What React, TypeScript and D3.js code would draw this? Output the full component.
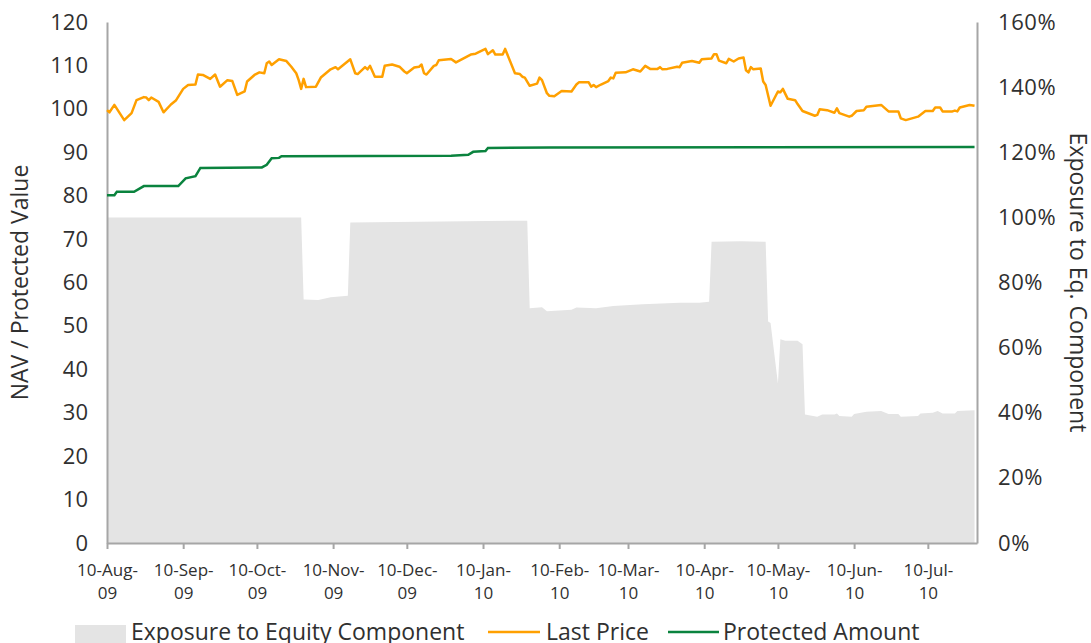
import { useEffect, useRef } from 'react';
import * as d3 from 'd3';

// x values are days since 10-Aug-09
const startDate = "2009-08-10";
const endDay = 354;

const monthTicks = [
  "2009-08-10", "2009-09-10", "2009-10-10", "2009-11-10", "2009-12-10", "2010-01-10",
  "2010-02-10", "2010-03-10", "2010-04-10", "2010-05-10", "2010-06-10", "2010-07-10"
];
const navTicks = [0, 10, 20, 30, 40, 50, 60, 70, 80, 90, 100, 110, 120];
const exposureTicks = [0, 0.2, 0.4, 0.6, 0.8, 1.0, 1.2, 1.4, 1.6];

const lastPrice: [number, number][] = [
  [0, 99.7], [1, 99.2], [3, 100.9], [7, 97.4], [10, 99.0], [12, 102.0], [15, 102.7], [16, 102.6],
  [17, 102.0], [18, 102.6], [21, 101.6], [23, 99.2], [26, 101.0], [28, 101.9], [31, 104.6], [33, 105.5],
  [36, 105.6], [37, 107.9], [39, 107.8], [42, 106.9], [44, 107.9], [46, 105.1], [49, 106.6], [51, 106.4],
  [53, 103.2], [56, 104.0], [57, 106.3], [60, 107.8], [62, 108.4], [64, 108.2], [65, 110.5], [66, 110.9],
  [67, 110.1], [70, 111.4], [73, 111.0], [75, 109.7], [77, 108.2], [78, 106.6], [79, 104.6], [80, 106.9],
  [81, 105.0], [85, 105.1], [87, 107.2], [91, 109.1], [93, 109.6], [94, 109.1], [99, 111.4], [101, 108.2],
  [102, 108.0], [105, 109.6], [106, 109.1], [107, 109.9], [109, 107.4], [112, 107.4], [113, 109.9], [116, 110.2],
  [119, 109.7], [121, 108.6], [122, 108.2], [125, 109.5], [127, 109.7], [128, 110.2], [129, 108.2], [130, 107.9],
  [133, 109.9], [134, 110.1], [135, 111.2], [140, 111.5], [142, 110.7], [148, 112.5], [150, 112.7], [154, 113.8],
  [155, 112.6], [157, 113.5], [158, 112.5], [161, 112.5], [162, 113.8], [166, 108.2], [168, 108.0], [169, 107.4],
  [170, 107.2], [172, 105.3], [175, 105.8], [176, 107.2], [177, 106.6], [179, 103.6], [180, 103.0], [182, 102.9],
  [185, 104.1], [189, 104.0], [191, 105.6], [192, 106.1], [196, 106.1], [197, 105.1], [198, 105.5], [199, 105.0],
  [201, 105.6], [204, 106.4], [205, 107.2], [206, 107.0], [207, 108.3], [211, 108.4], [214, 109.1], [217, 108.6],
  [219, 109.9], [221, 109.2], [224, 109.2], [225, 109.6], [226, 109.1], [228, 109.2], [232, 109.7], [233, 109.6],
  [234, 110.6], [238, 111.0], [241, 110.6], [242, 111.4], [246, 111.6], [247, 112.6], [248, 112.6], [249, 111.1],
  [252, 110.5], [253, 111.5], [255, 110.9], [257, 111.6], [259, 111.8], [260, 108.9], [261, 108.4], [262, 109.6],
  [263, 109.1], [266, 109.3], [267, 106.3], [268, 105.5], [270, 100.7], [273, 104.0], [274, 103.8], [275, 104.6],
  [277, 102.3], [280, 102.0], [281, 101.1], [283, 99.5], [288, 98.4], [289, 98.6], [290, 99.9], [293, 99.7],
  [296, 99.1], [297, 100.1], [298, 99.0], [302, 98.2], [303, 98.4], [305, 99.5], [308, 99.7], [309, 100.5],
  [315, 100.9], [318, 99.4], [322, 99.4], [323, 97.8], [325, 97.4], [330, 98.2], [333, 99.5], [336, 99.5],
  [337, 100.3], [339, 100.3], [340, 99.4], [344, 99.4], [345, 99.6], [346, 99.4], [347, 100.3], [351, 100.9],
  [353, 100.7]
];

const protectedAmount: [number, number][] = [
  [0, 80.1], [3, 80.1], [4, 80.9], [11, 80.9], [15, 82.2], [29, 82.2], [32, 84.0], [36, 84.5],
  [38, 86.4], [63, 86.5], [65, 87.1], [67, 88.6], [70, 88.7], [71, 89.1], [140, 89.2], [147, 89.4],
  [149, 90.1], [154, 90.3], [155, 91.0], [180, 91.1], [353, 91.2]
];

const equityExposure: [number, number][] = [
  [0, 1.0], [79, 1.0], [80, 0.748], [86, 0.746], [91, 0.755], [98, 0.759], [99, 0.984], [171, 0.99],
  [172, 0.721], [177, 0.724], [179, 0.712], [189, 0.716], [191, 0.723], [199, 0.721], [206, 0.728], [218, 0.733],
  [233, 0.738], [241, 0.738], [245, 0.741], [246, 0.925], [258, 0.927], [268, 0.925], [269, 0.68], [270, 0.676],
  [273, 0.49], [274, 0.626], [276, 0.621], [281, 0.621], [283, 0.61], [284, 0.395], [289, 0.388], [291, 0.395],
  [296, 0.395], [297, 0.398], [298, 0.39], [303, 0.388], [304, 0.396], [309, 0.403], [315, 0.405], [318, 0.396],
  [322, 0.396], [323, 0.388], [330, 0.39], [331, 0.398], [336, 0.40], [338, 0.405], [340, 0.398], [345, 0.398],
  [346, 0.405], [353, 0.408]
];

const legendItems = ["Exposure to Equity Component", "Last Price", "Protected Amount"];

export default function App() {
  const svgRef = useRef<SVGSVGElement>(null);

  useEffect(() => {
    if (!svgRef.current) return;
    const svg = d3.select(svgRef.current);
    svg.selectAll("*").remove();

    const font = "'Open Sans', 'Noto Sans', sans-serif";
    const textColor = "#303030";
    const axisColor = "#a6a6a6";
    const margin = { top: 22, right: 114, bottom: 100, left: 107 };
    const width = 1091, height = 643;
    const plotBottom = height - margin.bottom;

    const parse = d3.timeParse("%Y-%m-%d");
    const start = parse(startDate) as Date;
    const toDate = (d: number) => d3.timeDay.offset(start, d);

    const x = d3.scaleTime()
      .domain([start, toDate(endDay)])
      .range([margin.left, width - margin.right]);
    const yLeft = d3.scaleLinear().domain([0, 120]).range([plotBottom, margin.top]);
    const yRight = d3.scaleLinear().domain([0, 1.6]).range([plotBottom, margin.top]);

    const area = d3.area<[number, number]>()
      .x(d => x(toDate(d[0])))
      .y0(plotBottom)
      .y1(d => yRight(d[1]));

    svg.append("path")
      .datum(equityExposure)
      .attr("fill", "#e4e4e4")
      .attr("d", area);

    const lineLeft = d3.line<[number, number]>()
      .x(d => x(toDate(d[0])))
      .y(d => yLeft(d[1]));

    // axes
    const gx = svg.append("g")
      .attr("transform", `translate(0,${plotBottom})`)
      .call(d3.axisBottom(x)
        .tickValues(monthTicks.map(s => parse(s) as Date))
        .tickSize(6)
        .tickSizeOuter(0)
        .tickFormat(() => "") as any);
    gx.selectAll(".tick text").remove();
    const fmt1 = d3.timeFormat("%d-%b-");
    const fmt2 = d3.timeFormat("%y");
    gx.selectAll(".tick").each(function (d: any) {
      const t = d3.select(this).append("text")
        .attr("fill", textColor)
        .attr("text-anchor", "middle")
        .style("font-family", font)
        .style("font-size", "17px");
      t.append("tspan").attr("x", 0).attr("y", 33).text(fmt1(d));
      t.append("tspan").attr("x", 0).attr("y", 56).text(fmt2(d));
    });

    const gl = svg.append("g")
      .attr("transform", `translate(${margin.left},0)`)
      .call(d3.axisLeft(yLeft).tickValues(navTicks).tickSize(0).tickSizeOuter(0).tickPadding(19) as any);

    const gr = svg.append("g")
      .attr("transform", `translate(${width - margin.right},0)`)
      .call(d3.axisRight(yRight).tickValues(exposureTicks).tickSize(0).tickSizeOuter(0)
        .tickPadding(21).tickFormat(d3.format(".0%")) as any);

    [gx, gl, gr].forEach(g => {
      g.select(".domain").attr("stroke", axisColor).attr("stroke-width", 2);
      g.selectAll(".tick line").attr("stroke", axisColor).attr("stroke-width", 2);
    });
    [gl, gr].forEach(g => {
      g.selectAll(".tick text")
        .attr("fill", textColor)
        .style("font-family", font)
        .style("font-size", "22px");
    });
    gr.selectAll(".tick text").attr("letter-spacing", "0.6px");

    svg.append("path")
      .datum(protectedAmount)
      .attr("fill", "none")
      .attr("stroke", "#0a833e")
      .attr("stroke-width", 2.5)
      .attr("d", lineLeft);

    svg.append("path")
      .datum(lastPrice)
      .attr("fill", "none")
      .attr("stroke", "#ffa000")
      .attr("stroke-width", 2.5)
      .attr("stroke-linejoin", "round")
      .attr("d", lineLeft);

    // axis titles
    svg.append("text")
      .attr("transform", `translate(22,${(margin.top + plotBottom) / 2}) rotate(-90)`)
      .attr("text-anchor", "middle")
      .attr("dominant-baseline", "middle")
      .attr("fill", textColor)
      .style("font-family", font)
      .style("font-size", "23px")
      .text("NAV / Protected Value");

    svg.append("text")
      .attr("transform", `translate(1076,${(margin.top + plotBottom) / 2}) rotate(90)`)
      .attr("text-anchor", "middle")
      .attr("dominant-baseline", "middle")
      .attr("fill", textColor)
      .style("font-family", font)
      .style("font-size", "23px")
      .text("Exposure to Eq. Component");

    // legend
    const legend = svg.append("g").style("font-family", font).style("font-size", "23px");
    legend.append("rect")
      .attr("x", 75).attr("y", 625).attr("width", 51).attr("height", 20)
      .attr("fill", "#e4e4e4");
    legend.append("text").attr("x", 131).attr("y", 640).attr("fill", textColor).text(legendItems[0]);
    legend.append("line")
      .attr("x1", 488).attr("x2", 540).attr("y1", 632).attr("y2", 632)
      .attr("stroke", "#ffa000").attr("stroke-width", 2.5);
    legend.append("text").attr("x", 546).attr("y", 640).attr("fill", textColor).text(legendItems[1]);
    legend.append("line")
      .attr("x1", 668).attr("x2", 719).attr("y1", 632).attr("y2", 632)
      .attr("stroke", "#0a833e").attr("stroke-width", 2.5);
    legend.append("text").attr("x", 723).attr("y", 640).attr("fill", textColor).text(legendItems[2]);
  }, []);

  return (
    <svg
      ref={svgRef}
      width={1091}
      height={643}
      style={{ position: "absolute", left: 0, top: 0, background: "#fff" }}
    />
  );
}
